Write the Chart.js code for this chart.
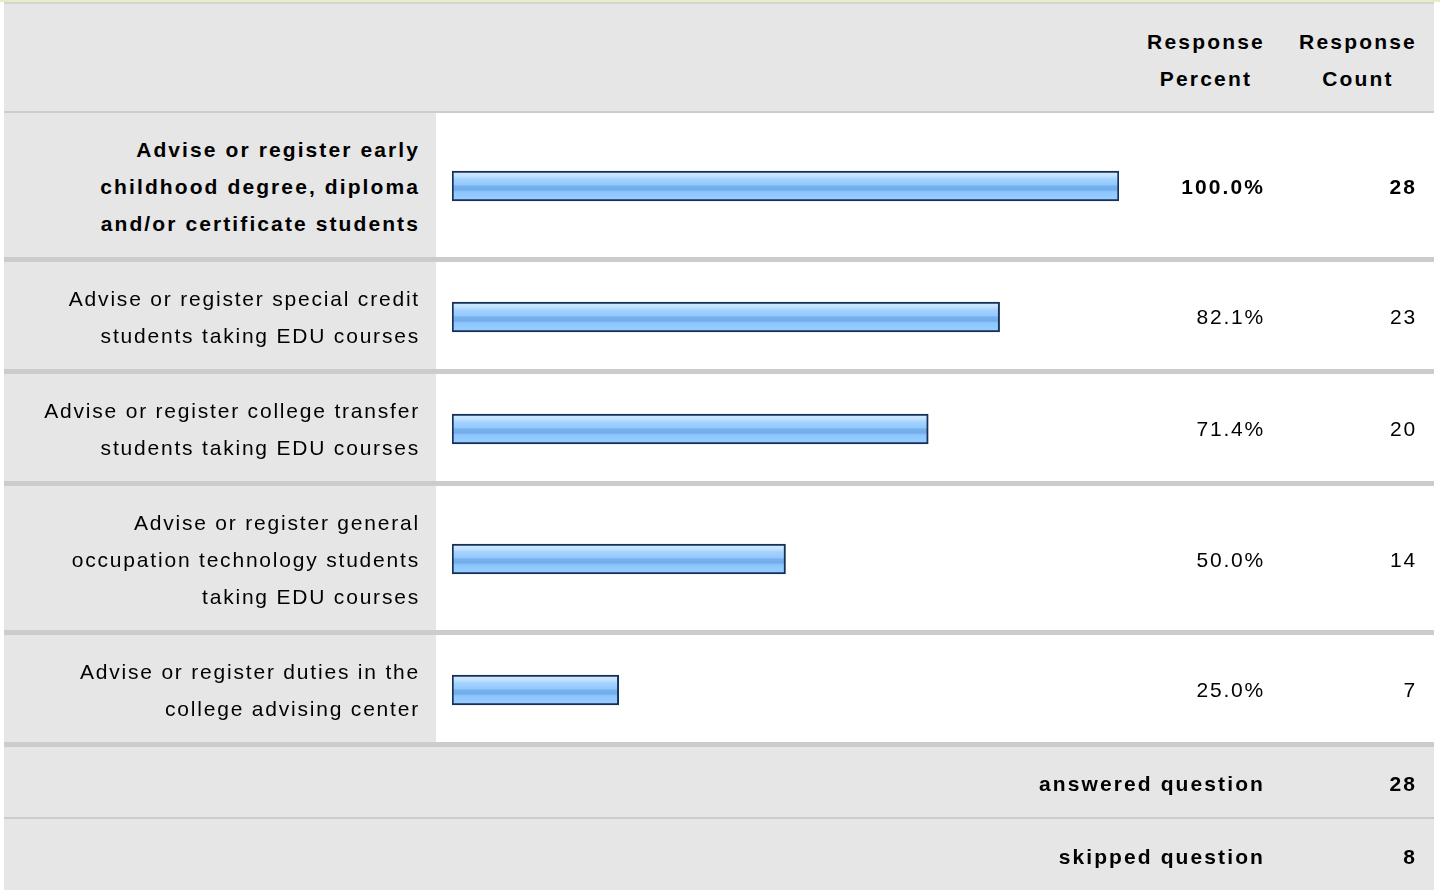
<!DOCTYPE html>
<html>
<head>
<meta charset="utf-8">
<script src="https://cdn.jsdelivr.net/npm/chart.js@4/dist/chart.umd.min.js"></script>
<style>
  html, body { margin: 0; padding: 0; background: #fff; }
  body {
    width: 1440px; height: 890px; overflow: hidden;
    font-family: "Liberation Sans", Arial, Helvetica, sans-serif;
    font-size: 21px; letter-spacing: 1.8px; color: #000;
  }
  .topline { height: 2px; background: #e6edc6; }
  #tbl { margin-left: 4px; width: 1430px; border-top: 2px solid #d4d4d4; }
  .row { display: flex; box-sizing: border-box; line-height: 37px; }
  .cell { display: flex; align-items: center; box-sizing: border-box; }
  .c-label { width: 432px; justify-content: flex-end; text-align: right; padding-right: 16px; }
  .c-bar { width: 694px; padding-left: 16px; }
  .c-pct, .c-cnt { width: 152px; justify-content: flex-end; text-align: right; padding-right: 17px; }
  .head { background: #e6e6e6; height: 109px; border-bottom: 2px solid #ccc; font-weight: bold; letter-spacing: 2.2px; }
  .head .cell { justify-content: center; text-align: center; padding: 5px 0 0 0; }
  .item { border-bottom: 5px solid #ccc; }
  .item .cell { padding-top: 2px; }
  .item .c-label { background: #e6e6e6; }
  .bold { font-weight: bold; letter-spacing: 2.1px; }
  .sum { background: #e6e6e6; height: 72px; font-weight: bold; letter-spacing: 2.1px; }
  .sum.first { border-bottom: 2px solid #ccc; }
  .sum .cell { padding-top: 3px; }
  .sum .c-wide { width: 1278px; justify-content: flex-end; padding-right: 17px; }
  canvas { display: block; }
</style>
</head>
<body>
<div class="topline"></div>
<div id="tbl"></div>
<script>
(function() {
  // answer options (one entry per text line)
  const categories = [
    ['Advise or register early', 'childhood degree, diploma', 'and/or certificate students'],
    ['Advise or register special credit', 'students taking EDU courses'],
    ['Advise or register college transfer', 'students taking EDU courses'],
    ['Advise or register general', 'occupation technology students', 'taking EDU courses'],
    ['Advise or register duties in the', 'college advising center']
  ];
  const responsePercent = [100.0, 82.1, 71.4, 50.0, 25.0];
  const responseCount = [28, 23, 20, 14, 7];
  const headers = [['Response', 'Percent'], ['Response', 'Count']];
  const summaryLabels = ['answered question', 'skipped question'];
  const summaryCounts = [28, 8];

  const tbl = document.getElementById('tbl');
  const maxPct = Math.max(...responsePercent);

  // header
  const head = document.createElement('div');
  head.className = 'row head';
  head.innerHTML = `<div class="cell c-label"></div><div class="cell c-bar"></div>
    <div class="cell c-pct">${headers[0].join('<br>')}</div><div class="cell c-cnt">${headers[1].join('<br>')}</div>`;
  tbl.appendChild(head);

  // rows
  const canvases = [];
  categories.forEach((lines, i) => {
    const row = document.createElement('div');
    row.className = 'row item' + (responsePercent[i] === maxPct ? ' bold' : '');
    row.style.height = (lines.length * 37 + 38) + 'px';
    row.innerHTML = `
      <div class="cell c-label">${lines.join('<br>')}</div>
      <div class="cell c-bar"><canvas width="667" height="40"></canvas></div>
      <div class="cell c-pct">${responsePercent[i].toFixed(1)}%</div>
      <div class="cell c-cnt">${responseCount[i]}</div>
    `;
    tbl.appendChild(row);
    canvases.push(row.querySelector('canvas'));
  });

  // summary rows
  summaryLabels.forEach((lbl, i) => {
    const row = document.createElement('div');
    row.className = 'row sum' + (i === 0 ? ' first' : '');
    row.innerHTML = `<div class="cell c-wide">${lbl}</div><div class="cell c-cnt">${summaryCounts[i]}</div>`;
    tbl.appendChild(row);
  });

  // glossy blue fill for the bars
  function barFill(c) {
    const ch = c.chart;
    const area = ch.chartArea;
    if (!area || !isFinite(area.top)) return '#94caff';
    const cy = (area.top + area.bottom) / 2;
    const g = ch.ctx.createLinearGradient(0, cy - 15, 0, cy + 15);
    g.addColorStop(0.00, '#d6ecff');
    g.addColorStop(0.16, '#c4e3ff');
    g.addColorStop(0.26, '#a6d3ff');
    g.addColorStop(0.45, '#94c9fd');
    g.addColorStop(0.50, '#78b1ee');
    g.addColorStop(0.62, '#72ace9');
    g.addColorStop(0.70, '#8cc6fd');
    g.addColorStop(1.00, '#9ccfff');
    return g;
  }

  canvases.forEach((cv, i) => {
    new Chart(cv.getContext('2d'), {
      type: 'bar',
      data: {
        labels: [categories[i].join(' ')],
        datasets: [{
          data: [responsePercent[i]],
          backgroundColor: barFill,
          borderColor: '#17305a',
          borderWidth: 2,
          borderSkipped: false,
          barThickness: 30
        }]
      },
      options: {
        indexAxis: 'y',
        responsive: false,
        animation: false,
        layout: { padding: 0 },
        plugins: { legend: { display: false }, tooltip: { enabled: false } },
        scales: {
          x: { min: 0, max: 100, display: false },
          y: { display: false }
        }
      }
    });
  });
})();
</script>
</body>
</html>
